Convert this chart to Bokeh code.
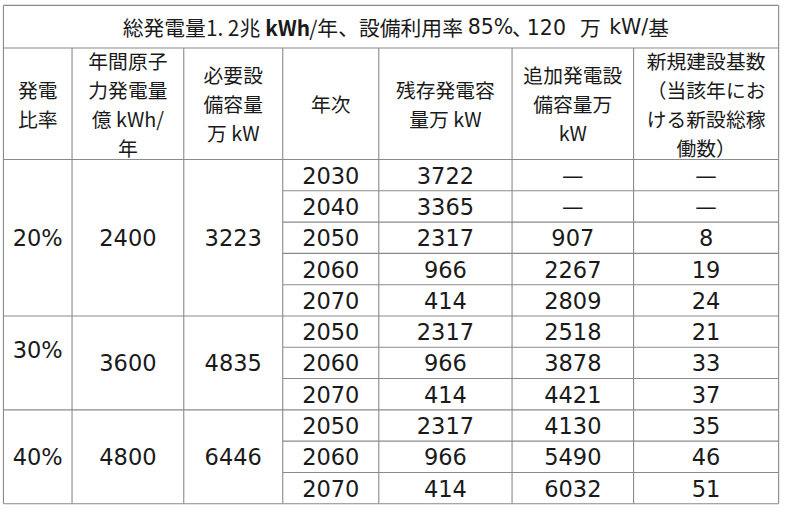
from bokeh.plotting import figure
from bokeh.models import Range1d
from bokeh.core.properties import value
from bokeh.embed import file_html
from bokeh.resources import INLINE

# ---------------- data ----------------
title_parts = ["総発電量1. 2兆", "kWh", "/年、設備利用率", "85%", "、", "120", "万", "kW/", "基"]

headers = [
    "発電\n比率",
    "年間原子\n力発電量\n億 kWh/\n年",
    "必要設\n備容量\n万 kW",
    "年次",
    "残存発電容\n量万 kW",
    "追加発電設\n備容量万\nkW",
    "新規建設基数\n（当該年にお\nける新設総稼\n働数）",
]

ratios = ["20%", "30%", "40%"]
annual_gen = [2400, 3600, 4800]
required_cap = [3223, 4835, 6446]
group_years = [[2030, 2040, 2050, 2060, 2070], [2050, 2060, 2070], [2050, 2060, 2070]]
remaining = [3722, 3365, 2317, 966, 414, 2317, 966, 414, 2317, 966, 414]
additional = [None, None, 907, 2267, 2809, 2518, 3878, 4421, 4130, 5490, 6032]
new_units = [None, None, 8, 19, 24, 21, 33, 37, 35, 46, 51]

# ---------------- layout (reference pixel space) ----------------
col_edges = [3, 73, 187, 288, 386, 522, 646, 794]
title_top, header_top, body_top, body_bottom = 5, 49, 164, 519
ratio_label_dy = [0, -13, 0]
# title pieces: anchor x, align, font kind, bold
title_layout = [
    (265, "right", "jp", False), (293, "center", "jp", True), (315, "left", "jp", False),
    (500, "center", "num", False), (522, "left", "jp", False), (557, "center", "num", False),
    (602, "center", "jp", False), (661, "right", "num", False), (661, "left", "jp", False),
]
LINE = "#8a8a8a"
TXT = "#1a1a1a"
NUM_FONT = value("DejaVu Sans")
JP_FONT = value("Noto Sans CJK JP")

n_rows = sum(len(g) for g in group_years)
row_h = (body_bottom - body_top) / n_rows
centers = [(col_edges[i] + col_edges[i + 1]) / 2 for i in range(len(col_edges) - 1)]

p = figure(width=784, height=511, x_range=Range1d(0, 800), y_range=Range1d(527, 0),
           output_backend="svg", toolbar_location=None, min_border=0,
           background_fill_color="white", border_fill_color="white")
p.axis.visible = False
p.grid.visible = False
p.outline_line_color = None

# ---- grid lines ----
x0s, y0s, x1s, y1s = [], [], [], []
L, R = col_edges[0], col_edges[-1]
for y in (title_top, header_top, body_top, body_bottom):
    x0s.append(L); x1s.append(R); y0s.append(y); y1s.append(y)
x0s += [L, R]; x1s += [L, R]; y0s += [title_top, title_top]; y1s += [body_bottom, body_bottom]
for x in col_edges[1:-1]:
    x0s.append(x); x1s.append(x); y0s.append(header_top); y1s.append(body_bottom)
r = 0
group_bounds = []
for g in group_years:
    top = body_top + r * row_h
    bot = top + len(g) * row_h
    group_bounds.append((top, bot))
    if r > 0:
        x0s.append(L); x1s.append(R); y0s.append(top); y1s.append(top)
    for k in range(1, len(g)):
        yy = top + k * row_h
        x0s.append(col_edges[3]); x1s.append(R); y0s.append(yy); y1s.append(yy)
    r += len(g)
p.segment(x0s, y0s, x1s, y1s, line_color=LINE, line_width=1.1)

# ---- title ----
ty = (title_top + header_top) / 2
for txt, (tx, al, kind, bold) in zip(title_parts, title_layout):
    p.text([tx], [ty], text=[txt], text_font=JP_FONT if kind == "jp" else NUM_FONT,
           text_font_size="20.8px" if kind == "jp" else "20.5px",
           text_font_style="bold" if bold else "normal",
           text_align=al, text_baseline="middle", text_color=TXT)

# ---- headers ----
hy = (header_top + body_top) / 2
p.text(centers, [hy] * len(headers), text=headers, text_font=JP_FONT, text_font_size="19.8px",
       text_align="center", text_baseline="middle", text_line_height=1.0, text_color=TXT)

# ---- group cells ----
gx, gy, gt = [], [], []
for i, (top, bot) in enumerate(group_bounds):
    cy = (top + bot) / 2
    gx += [centers[0], centers[1], centers[2]]
    gy += [cy + ratio_label_dy[i], cy, cy]
    gt += [ratios[i], str(annual_gen[i]), str(required_cap[i])]
p.text(gx, gy, text=gt, text_font=NUM_FONT, text_font_size="22.5px",
       text_align="center", text_baseline="middle", text_color=TXT)

# ---- row cells ----
years = [y for g in group_years for y in g]
rx, ry, rt, dx, dy = [], [], [], [], []
for i in range(n_rows):
    cy = body_top + (i + 0.5) * row_h
    rx += [centers[3], centers[4]]
    ry += [cy, cy]
    rt += [str(years[i]), str(remaining[i])]
    for c, v in ((5, additional[i]), (6, new_units[i])):
        if v is None:
            dx.append(centers[c]); dy.append(cy)
        else:
            rx.append(centers[c]); ry.append(cy); rt.append(str(v))
p.text(rx, ry, text=rt, text_font=NUM_FONT, text_font_size="22.5px",
       text_align="center", text_baseline="middle", text_color=TXT)
p.text(dx, dy, text=["—"] * len(dx), text_font=NUM_FONT, text_font_size="21.5px",
       text_align="center", text_baseline="middle", text_color=TXT)

open("out.html", "w").write(file_html(p, INLINE))
